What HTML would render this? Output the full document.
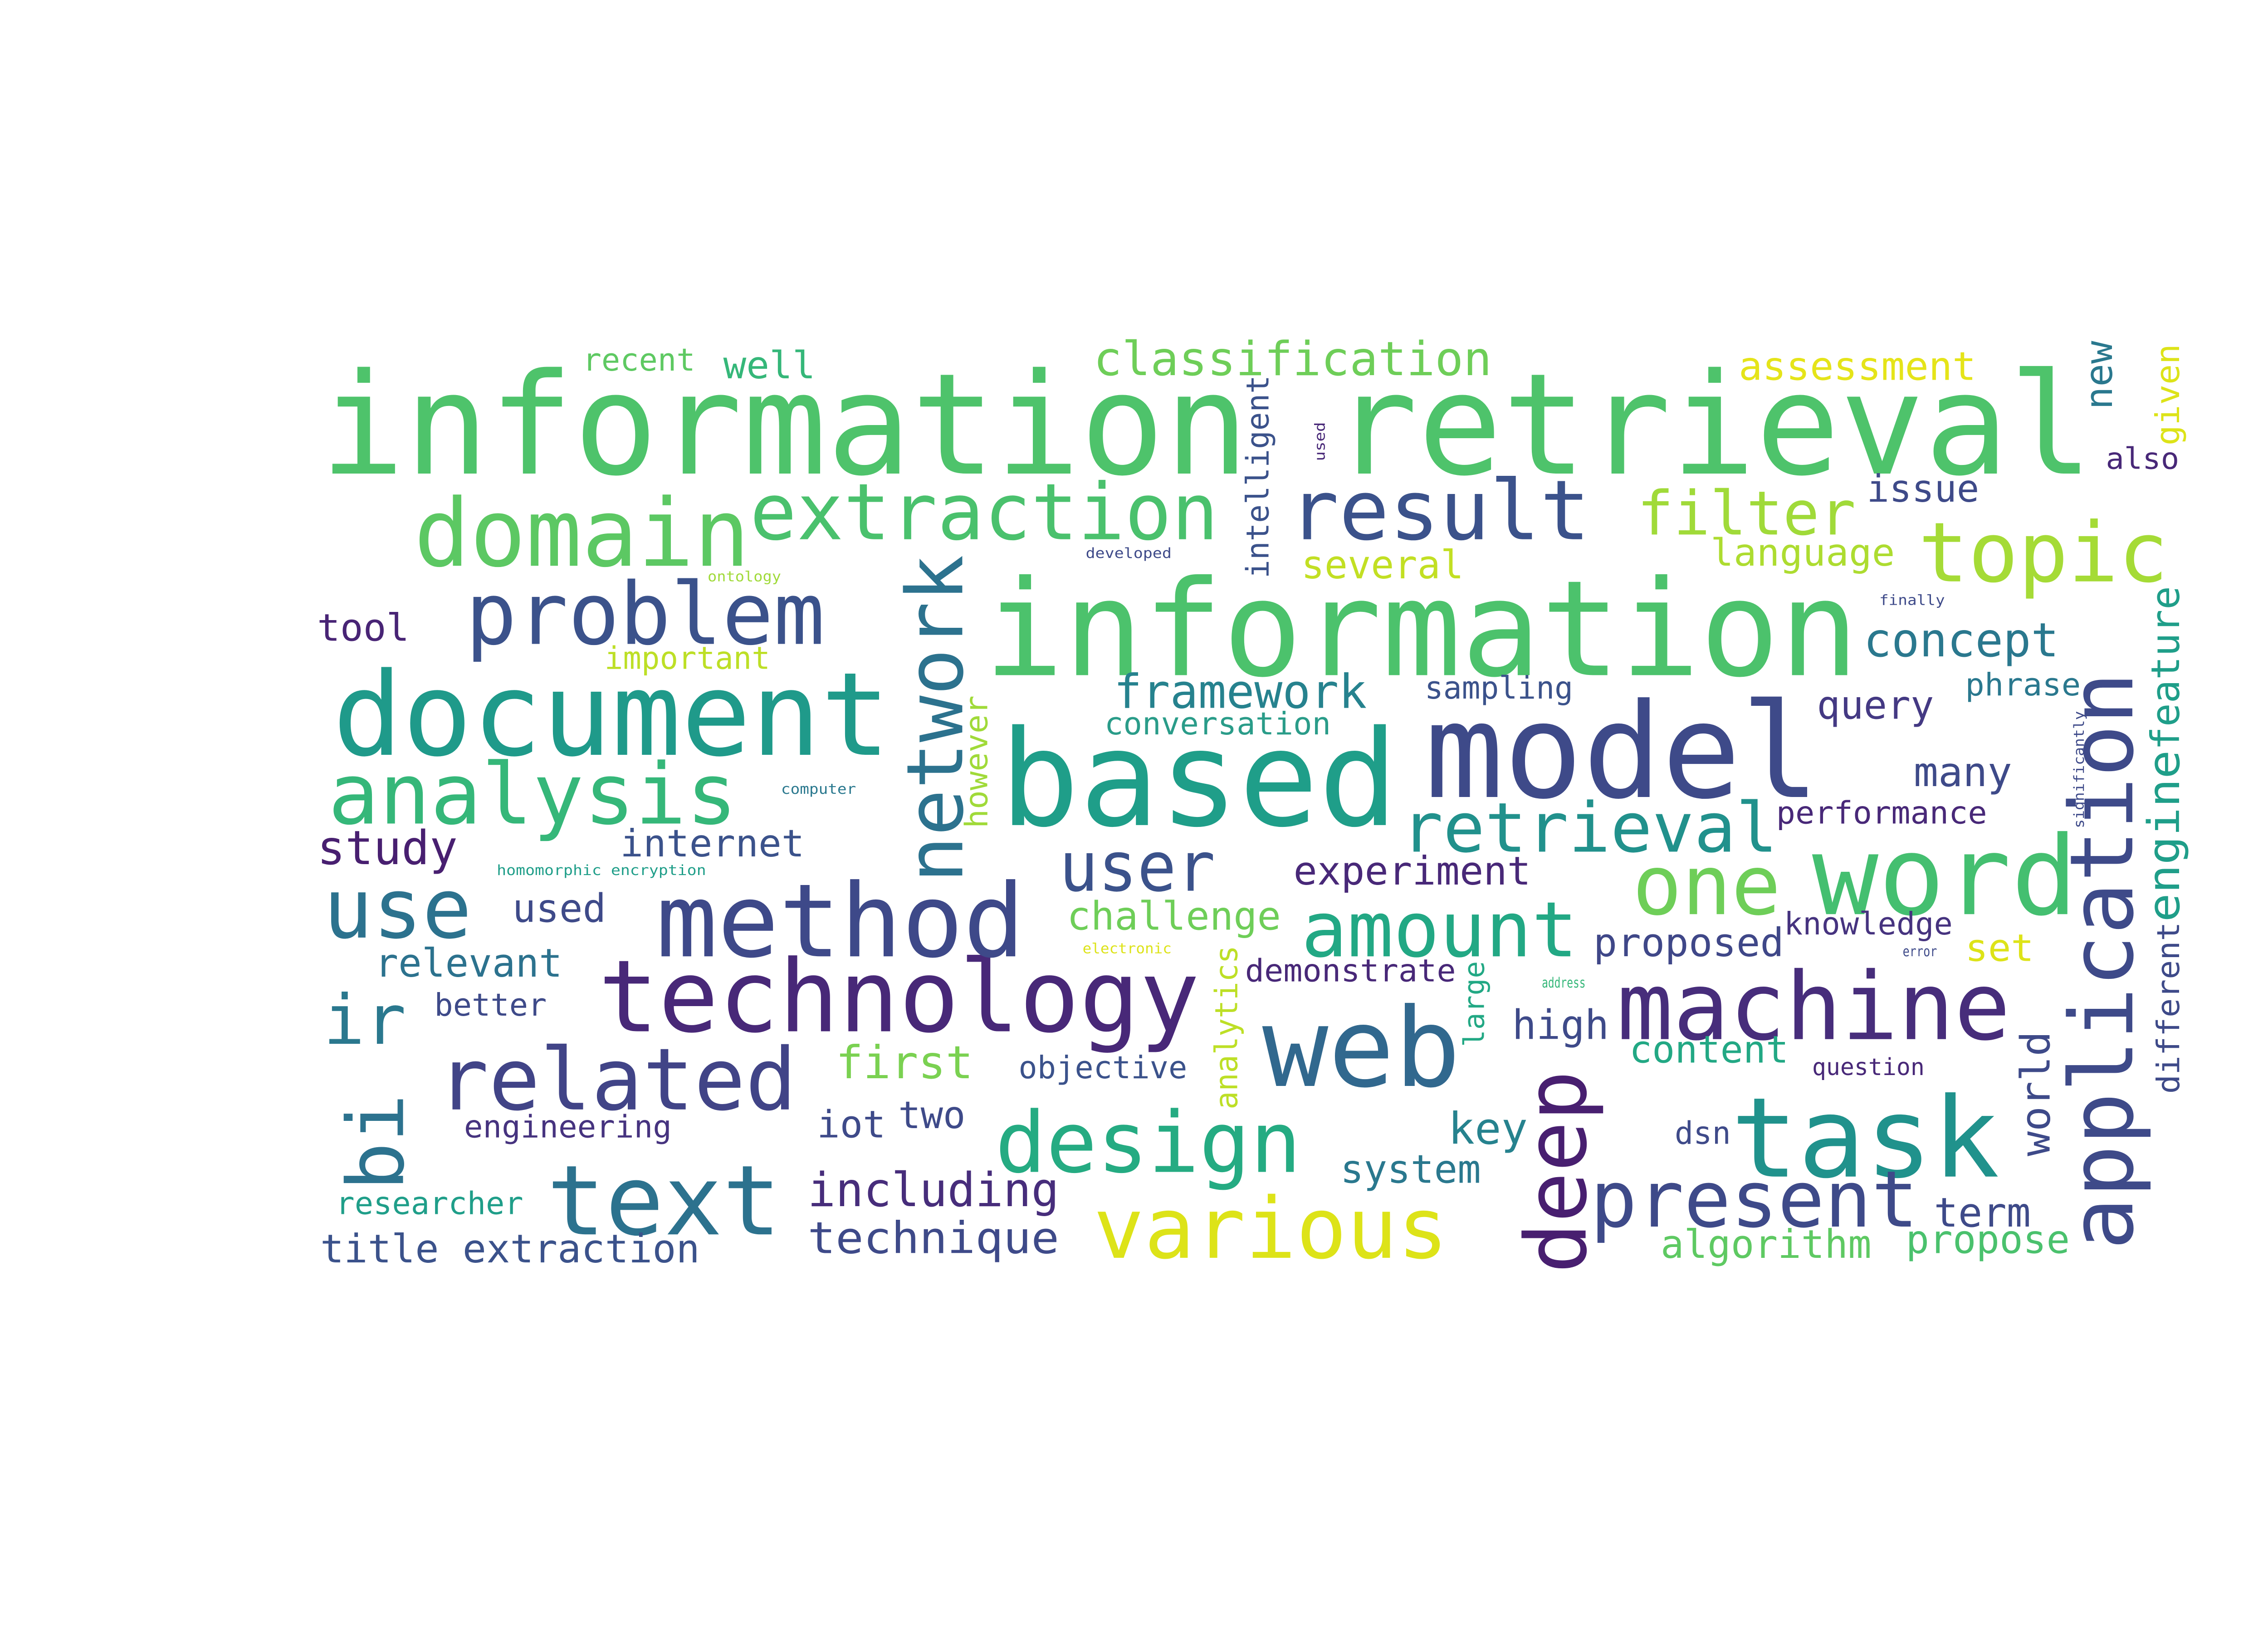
<!DOCTYPE html>
<html>
<head>
<meta charset="utf-8">
<style>
html,body{margin:0;padding:0;background:#fff;width:5400px;height:3600px;overflow:hidden;}
#chart{display:block;position:absolute;left:0;top:0;}
text{font-family:"DejaVu Sans Mono","Liberation Mono",monospace;}
</style>
</head>
<body>
<svg id="chart" width="5400" height="3600" viewBox="0 0 1568 1045" overflow="hidden" xmlns="http://www.w3.org/2000/svg">
<rect width="1568" height="1045" fill="#ffffff"/>
<g id="words"></g>
</svg>
<script>
// word, left x, right x, baseline y, font size, color
const words = ["information retrieval","information","based","model","document","domain","extraction","result","filter","topic","problem","analysis","technology","method","web","machine","task","word","user","retrieval","one","amount","related","use","ir","text","design","various","present","classification","assessment","recent","well","issue","also","several","language","tool","important","concept","framework","sampling","phrase","conversation","query","many","performance","study","internet","experiment","used","challenge","knowledge","proposed","relevant","set","demonstrate","better","high","first","objective","content","question","engineering","iot","two","key","dsn","system","including","researcher","term","title extraction","technique","algorithm","propose","developed","ontology","finally","computer","homomorphic encryption","electronic","address","error"];
const x1s = [205,630,640,912,213,265,480,825,1048,1228,298,210,383,420,808,1035,1108,1160,678,897,1045,833,280,207,207,350,637,700,1018,700,1113,373,463,1195,1348,833,1095,203,387,1193,713,912,1258,707,1163,1225,1137,203,397,828,328,683,1142,1020,240,1258,797,278,968,535,652,1043,1160,297,523,575,927,1072,858,517,215,1238,205,517,1063,1220,695,453,1203,500,318,693,987,1218];
const x2s = [1340,1190,895,1165,570,480,780,1018,1188,1388,528,472,768,656,935,1287,1280,1330,778,1138,1140,1010,510,302,260,500,833,927,1228,955,1265,445,522,1267,1395,937,1213,262,493,1318,875,1007,1332,852,1238,1288,1272,293,515,980,388,820,1250,1142,360,1302,932,350,1030,623,760,1145,1232,430,567,618,978,1108,948,678,335,1300,448,678,1198,1325,750,500,1245,548,452,750,1015,1240];
const ys = [303,432,528,510,483,362,345,345,342,372,412,527,660,612,695,665,753,585,570,545,585,612,710,600,668,790,750,805,785,240,243,237,242,321,300,370,362,410,428,420,453,447,445,470,460,503,527,553,548,566,590,595,598,612,625,615,628,650,665,690,690,680,688,728,728,722,732,732,757,772,777,785,808,802,805,802,357,372,387,508,560,610,632,612];
const sizes = [90,85,85,84,74,60,50,53,39,53,55,54,64,65,70,60,71,70,44,44,53,49,55,53,44,62,54,54,50,30,25,20,24,24,19,25,24,24,20,30,30,20,20,20,25,26,20,30,24,25,25,25,20,25,25,24,20,20,26,29,20,24,15,20,24,24,28,20,25,30,20,26,25,28,25,25,9,9,9,9,9,9,9,9];
const colors = ["#4ec36b","#4cc26c","#1f9e89","#3e4a89","#1f9a8a","#5cc863","#4ac16d","#3b528b","#a0da39","#a5db36","#3b528b","#35b779","#482878","#3e4989","#31688e","#472d7b","#20928c","#44bf70","#3b528b","#21918c","#6ece58","#22a884","#414487","#2c728e","#2a788e","#2c728e","#25ab82","#dde318","#3e4a89","#6ece58","#e5e419","#5ec962","#35b779","#3e4a89","#482878","#c2df23","#addc30","#482475","#bddf26","#2a788e","#26828e","#3b528b","#2a788e","#2a9c89","#443983","#3e4a89","#482878","#481f70","#3b528b","#482878","#3e4a89","#6ece58","#46337f","#3f4788","#2c728e","#dde318","#482878","#3e4a89","#3e4a89","#7ad151","#3b528b","#22a884","#482878","#46337f","#3e4a89","#3e4a89","#26828e","#3e4a89","#2a788e","#472d7b","#1f9e89","#3e4a89","#3b528b","#3e4a89","#5ec962","#4ac16d","#3e4a89","#a0da39","#3e4a89","#2a788e","#1f9e89","#dde318","#35b779","#3e4a89"];

// vertical words: word, baseline x, bottom y, top y, font size, color
const vWords = ["network","application","deep","bi","intelligent","new","given","feature","engine","different","world","however","analytics","large","significantly","used"];
const vXs = [616,1365,1015,258,812,1352,1395,1395,1395,1395,1312,632,792,950,1334,848];
const vBottoms = [565,800,815,762,370,262,285,480,590,700,740,530,710,670,530,295];
const vTops = [355,430,685,700,240,218,220,375,480,590,660,445,605,615,455,270];
const vSizes = [50,56,54,50,20,24,21,25,28,20,26,20,20,18,9,9];
const vColors = ["#2c728e","#3e4a89","#481f70","#2c728e","#3b528b","#2a788e","#dde318","#1f9e89","#1f9e89","#3e4a89","#3e4a89","#a0da39","#bddf26","#22a884","#3e4a89","#482878"];

const NS = "http://www.w3.org/2000/svg";
const g = document.getElementById("words");
function slug(s){return s.replace(/\s+/g,'-');}
for (let i = 0; i < words.length; i++) {
  const t = document.createElementNS(NS, "text");
  t.setAttribute("x", x1s[i]);
  t.setAttribute("y", ys[i]);
  t.setAttribute("font-size", sizes[i]);
  t.setAttribute("fill", colors[i]);
  t.setAttribute("textLength", x2s[i] - x1s[i]);
  t.setAttribute("lengthAdjust", "spacingAndGlyphs");
  t.textContent = words[i];
  
  
  g.appendChild(t);
}
for (let i = 0; i < vWords.length; i++) {
  const t = document.createElementNS(NS, "text");
  t.setAttribute("x", vXs[i]);
  t.setAttribute("y", vBottoms[i]);
  t.setAttribute("font-size", vSizes[i]);
  t.setAttribute("fill", vColors[i]);
  t.setAttribute("textLength", vBottoms[i] - vTops[i]);
  t.setAttribute("lengthAdjust", "spacingAndGlyphs");
  t.setAttribute("transform", "rotate(-90 " + vXs[i] + " " + vBottoms[i] + ")");
  t.textContent = vWords[i];
  
  
  g.appendChild(t);
}
</script>
</body>
</html>
